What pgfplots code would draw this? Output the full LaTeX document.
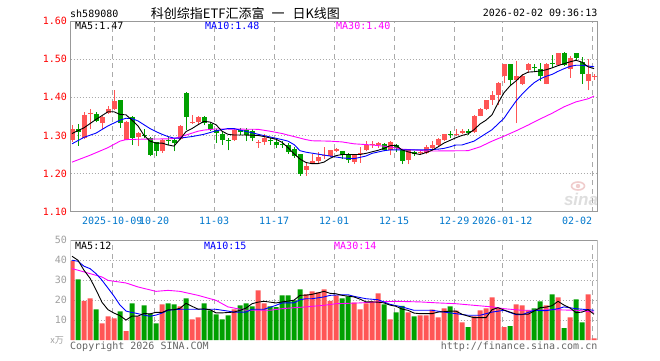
\documentclass[border=0pt]{standalone}
\usepackage{pgfplots}
\pgfplotsset{compat=1.18}
\usepackage{pgfplotstable}
\usepackage{fontspec}
\setmainfont{DejaVu Sans Mono}
\newfontfamily\cjk{Noto Sans CJK SC}
\newfontfamily\wm{Liberation Sans}
\definecolor{upred}{RGB}{255,85,85}
\definecolor{dngreen}{RGB}{0,160,0}
\definecolor{labred}{RGB}{255,0,0}
\definecolor{labblue}{RGB}{0,120,205}
\definecolor{gridgray}{RGB}{170,170,170}
\definecolor{framegray}{RGB}{153,153,153}
\definecolor{volgray}{RGB}{160,160,160}
\definecolor{ma10blue}{RGB}{0,0,255}
\definecolor{ma30mag}{RGB}{255,0,255}
\definecolor{wmgray}{RGB}{222,222,222}
\definecolor{wmeye}{RGB}{240,205,205}

% up (red) candles: index, open, high, low, close, volume
\pgfplotstableread{
i o h l c v
0 1.288 1.327 1.283 1.318 39.6
2 1.292 1.362 1.290 1.353 19.6
3 1.356 1.370 1.318 1.360 20.9
5 1.332 1.351 1.318 1.347 8.4
6 1.360 1.376 1.357 1.369 11.9
7 1.370 1.418 1.366 1.391 10.9
9 1.289 1.338 1.287 1.336 4.5
11 1.295 1.308 1.271 1.307 11.9
15 1.258 1.290 1.255 1.289 17.9
18 1.290 1.328 1.288 1.325 16.9
20 1.332 1.354 1.331 1.336 10.4
21 1.335 1.350 1.328 1.349 11.4
27 1.288 1.317 1.285 1.314 15.4
31 1.279 1.289 1.268 1.282 24.9
32 1.283 1.305 1.276 1.294 18.4
39 1.209 1.231 1.194 1.220 22.9
40 1.229 1.250 1.225 1.232 24.4
41 1.232 1.257 1.226 1.243 23.9
42 1.246 1.270 1.239 1.249 25.4
43 1.246 1.263 1.244 1.261 19.6
44 1.259 1.267 1.256 1.264 22.4
47 1.231 1.250 1.225 1.248 18.7
48 1.250 1.270 1.229 1.255 15.4
49 1.261 1.285 1.258 1.276 18.4
50 1.275 1.286 1.268 1.278 19.4
51 1.276 1.283 1.266 1.279 23.4
53 1.261 1.285 1.248 1.282 10.4
56 1.235 1.263 1.225 1.261 13.9
58 1.253 1.263 1.249 1.257 12.4
59 1.254 1.276 1.250 1.269 12.4
60 1.266 1.285 1.262 1.276 15.2
61 1.275 1.293 1.273 1.290 11.4
62 1.288 1.305 1.286 1.303 15.9
64 1.300 1.317 1.298 1.305 14.7
65 1.306 1.318 1.304 1.311 8.9
67 1.308 1.354 1.306 1.352 11.9
68 1.352 1.372 1.350 1.370 14.9
69 1.370 1.393 1.367 1.392 15.9
70 1.392 1.416 1.380 1.406 21.4
71 1.405 1.440 1.380 1.438 15.9
72 1.455 1.488 1.438 1.486 6.4
74 1.445 1.495 1.332 1.457 17.9
75 1.436 1.461 1.433 1.457 17.4
76 1.471 1.490 1.464 1.486 14.9
79 1.436 1.490 1.434 1.486 17.4
81 1.484 1.517 1.482 1.515 21.4
83 1.475 1.508 1.451 1.503 11.4
86 1.442 1.501 1.418 1.460 22.9
87 1.452 1.460 1.445 1.455 0.8
}\upcandles

% down (green) candles
\pgfplotstableread{
i o h l c v
1 1.318 1.329 1.273 1.310 30.4
4 1.357 1.362 1.334 1.338 15.4
8 1.393 1.394 1.320 1.332 14.4
10 1.348 1.352 1.275 1.294 18.4
12 1.301 1.317 1.293 1.298 17.4
13 1.294 1.296 1.245 1.249 13.2
14 1.282 1.284 1.245 1.258 8.4
16 1.289 1.297 1.275 1.286 18.4
17 1.289 1.290 1.258 1.280 17.9
19 1.412 1.413 1.315 1.348 20.9
22 1.347 1.351 1.327 1.332 18.4
23 1.330 1.333 1.311 1.317 14.9
24 1.315 1.318 1.281 1.306 12.9
25 1.303 1.310 1.275 1.288 10.4
26 1.289 1.294 1.261 1.286 12.4
28 1.314 1.319 1.300 1.308 17.4
29 1.314 1.320 1.285 1.301 18.4
30 1.311 1.318 1.285 1.292 16.9
33 1.288 1.294 1.275 1.285 16.9
34 1.284 1.288 1.266 1.275 16.5
35 1.278 1.286 1.267 1.275 22.4
36 1.275 1.280 1.252 1.257 22.4
37 1.265 1.270 1.241 1.247 19.9
38 1.252 1.252 1.194 1.200 25.4
45 1.259 1.259 1.239 1.248 20.9
46 1.250 1.255 1.229 1.235 21.9
52 1.277 1.279 1.258 1.261 17.9
54 1.275 1.278 1.256 1.266 13.9
55 1.261 1.264 1.225 1.234 17.1
57 1.257 1.259 1.247 1.251 11.9
63 1.305 1.311 1.294 1.302 16.9
66 1.311 1.316 1.302 1.306 6.4
73 1.486 1.487 1.433 1.445 6.9
77 1.479 1.486 1.466 1.476 15.9
78 1.475 1.489 1.442 1.455 19.4
80 1.491 1.510 1.477 1.488 22.9
82 1.515 1.519 1.482 1.484 5.9
84 1.515 1.515 1.497 1.503 20.4
85 1.493 1.506 1.436 1.460 8.9
}\downcandles

\pgfplotstableread{
i m
0 1.305
2 1.320
4 1.342
6 1.362
7 1.362
8 1.355
9 1.354
10 1.340
11 1.325
12 1.300
13 1.285
14 1.280
15 1.280
16 1.275
17 1.272
18 1.290
19 1.310
20 1.318
21 1.328
22 1.337
23 1.335
24 1.328
25 1.311
26 1.303
27 1.301
29 1.301
31 1.300
32 1.297
34 1.290
35 1.282
36 1.268
37 1.252
38 1.238
39 1.229
40 1.226
41 1.226
42 1.230
43 1.240
44 1.247
45 1.250
48 1.250
49 1.253
50 1.257
51 1.261
52 1.266
53 1.273
54 1.274
55 1.262
56 1.257
57 1.253
58 1.250
59 1.255
60 1.261
61 1.270
62 1.280
63 1.287
64 1.294
65 1.300
66 1.304
67 1.315
68 1.330
69 1.340
70 1.354
71 1.385
72 1.412
73 1.430
74 1.443
75 1.458
76 1.466
77 1.467
78 1.469
79 1.472
80 1.477
81 1.483
82 1.488
83 1.493
84 1.497
85 1.492
86 1.480
87 1.475
}\mafive

\pgfplotstableread{
i m
0 1.278
2 1.295
4 1.306
6 1.325
8 1.340
9 1.345
10 1.344
11 1.338
12 1.328
13 1.318
14 1.310
15 1.303
16 1.297
17 1.293
18 1.293
19 1.295
20 1.297
21 1.300
22 1.303
24 1.312
26 1.318
27 1.318
28 1.314
30 1.307
31 1.303
33 1.296
35 1.289
36 1.285
37 1.276
38 1.260
39 1.256
41 1.251
43 1.246
45 1.241
47 1.239
49 1.246
50 1.253
52 1.260
53 1.262
59 1.262
61 1.264
62 1.266
63 1.270
64 1.275
65 1.275
67 1.285
68 1.295
70 1.315
72 1.345
73 1.368
74 1.390
75 1.408
76 1.424
77 1.438
78 1.448
79 1.455
80 1.460
81 1.468
82 1.475
83 1.481
84 1.484
85 1.484
86 1.482
87 1.480
}\maten

\pgfplotstableread{
i m
0 1.230
3 1.248
6 1.268
8 1.285
9 1.289
11 1.290
16 1.291
17 1.292
18 1.296
20 1.306
21 1.311
22 1.314
24 1.317
31 1.316
33 1.311
35 1.305
37 1.297
39 1.289
40 1.286
43 1.285
45 1.283
47 1.278
50 1.275
53 1.270
55 1.264
58 1.261
59 1.259
66 1.260
68 1.270
70 1.285
72 1.298
74 1.312
76 1.327
78 1.343
80 1.358
82 1.375
84 1.388
86 1.396
87 1.403
}\mathirty

\pgfplotstableread{
i m
0 42.0
1 40.0
2 35.0
3 31.0
4 25.2
5 18.9
6 15.2
7 13.5
8 12.2
9 10.0
10 12.0
11 12.0
12 13.3
13 13.1
14 13.9
15 13.8
16 15.1
17 15.2
18 15.9
19 18.4
20 16.9
21 15.5
22 15.6
23 15.2
24 13.6
25 13.6
26 13.8
27 14.0
28 14.9
29 16.0
30 18.2
31 19.0
32 19.4
33 19.0
34 18.6
35 19.1
36 19.5
37 20.0
38 22.4
39 22.5
40 22.9
41 23.6
42 24.4
43 23.4
44 23.2
45 22.4
46 22.0
47 21.6
48 20.5
49 19.1
50 19.1
51 19.0
52 18.6
53 17.5
54 16.9
55 15.5
56 14.9
57 13.5
58 13.2
59 13.2
60 13.2
61 14.0
62 14.2
63 14.5
64 14.5
65 12.9
66 12.0
67 11.2
68 11.2
69 11.2
70 15.2
71 16.2
72 15.0
73 14.0
74 13.0
75 12.9
76 12.9
77 14.5
78 16.2
79 16.5
80 17.2
81 19.4
82 17.5
83 16.1
84 13.7
85 14.0
86 15.2
87 12.9
}\vfive

\pgfplotstableread{
i m
0 40.0
1 39.5
2 37.0
3 35.8
4 33.3
5 30.0
6 26.0
7 22.0
8 17.5
9 14.5
10 13.8
11 13.2
12 12.5
13 11.9
14 12.5
15 13.5
16 14.9
17 15.2
18 15.4
19 15.4
22 15.4
24 15.4
26 14.5
27 14.0
29 14.0
30 15.4
32 15.4
34 17.4
35 18.6
37 18.6
38 20.2
39 20.7
40 20.7
42 21.6
43 22.4
45 22.7
46 22.7
47 21.9
49 20.7
51 20.2
53 17.9
55 16.6
57 14.9
60 14.9
62 14.0
64 13.2
66 12.4
68 12.4
70 14.0
72 14.9
74 12.7
75 12.7
77 14.9
79 14.7
81 15.7
82 16.6
84 15.7
86 15.2
87 14.9
}\vten

\pgfplotstableread{
i m
0 35.8
1 35.0
3 33.3
5 31.6
6 29.9
9 28.6
11 26.6
14 24.4
16 24.9
18 24.4
21 22.4
24 19.9
26 16.6
29 14.9
33 14.9
35 15.7
37 16.2
39 16.6
40 16.9
42 17.4
44 18.2
48 18.6
51 19.1
54 19.4
58 19.1
61 18.6
64 18.2
67 17.4
70 16.6
72 15.7
75 14.9
77 14.9
80 15.2
84 14.9
87 14.0
}\vthirty

\begin{document}
\begin{tikzpicture}[x=1pt,y=1pt]
\fill[white] (0pt,0pt) rectangle (660pt,360pt);
\path[use as bounding box] (0pt,0pt) rectangle (660pt,360pt);

% header
\node[anchor=west,inner sep=0pt,font=\fontsize{10pt}{12pt}\selectfont] at (70pt,346.7pt) {sh589080};
\node[anchor=west,inner sep=0pt,font=\cjk\fontsize{13pt}{15pt}\selectfont] at (150.7pt,346.7pt) {科创综指ETF汇添富\hspace{7pt}一\hspace{8pt}日K线图};
\node[anchor=east,inner sep=0pt,font=\fontsize{10pt}{12pt}\selectfont] at (597.5pt,346.7pt) {2026-02-02 09:36:13};

% watermark (sina logo)
\draw[wmeye, line width=1.6pt] (578pt,174pt) ellipse (6.5pt and 4pt);
\fill[wmeye] (578pt,174pt) circle (2.2pt);
\node[inner sep=0pt,text=wmgray,font=\wm\bfseries\itshape\fontsize{17pt}{18pt}\selectfont] at (581pt,161pt) {sina};

\pgfplotsset{
  klbase/.style={
    scale only axis, width=527pt,
    xmin=-0.25, xmax=87.58,
    /pgf/number format/assume math mode=true,
    major tick length=0pt,
    xtick={6.7,13.7,23.7,33.7,43.7,53.7,63.7,71.7,86.7},
    xmajorgrids, ymajorgrids,
    major x grid style={gridgray, line width=0.8pt, dash pattern=on 5pt off 4pt},
    major y grid style={gridgray, line width=0.8pt, dash pattern=on 1pt off 2pt},
    ticklabel style={font=\fontsize{10pt}{12pt}\selectfont},
  },
  candle/.style={draw=none, mark=none, forget plot,
    error bars/.cd, y dir=plus, y explicit, error mark=none},
}

% price axis
\begin{axis}[klbase,
  at={(70.5pt,148.3pt)}, anchor=south west, height=190.7pt,
  ymin=1.10, ymax=1.60,
  axis line style={framegray, line width=0.9pt},
  xticklabels={2025-10-09,10-20,11-03,11-17,12-01,12-15,12-29,2026-01-12,\makebox[0pt][r]{02-02}},
  xticklabel style={text=labblue, yshift=-2pt},
  ytick={1.1,1.2,1.3,1.4,1.5,1.6},
  yticklabels={1.10,1.20,1.30,1.40,1.50,1.60},
  yticklabel style={text=labred},
]
% wicks
\addplot[candle, error bar style={draw=upred, line width=1pt}]
  table[x=i, y=l, y error expr=\thisrow{h}-\thisrow{l}] {\upcandles};
\addplot[candle, error bar style={draw=dngreen, line width=1pt}]
  table[x=i, y=l, y error expr=\thisrow{h}-\thisrow{l}] {\downcandles};
% bodies
\addplot[candle, error bar style={draw=upred, line width=5pt}]
  table[x=i, y=o, y error expr=\thisrow{c}-\thisrow{o}] {\upcandles};
\addplot[candle, error bar style={draw=dngreen, line width=5pt}]
  table[x=i, y=c, y error expr=\thisrow{o}-\thisrow{c}] {\downcandles};
% moving averages
\addplot[ma30mag, line width=0.9pt, mark=none] table[x=i, y=m] {\mathirty};
\addplot[ma10blue, line width=0.9pt, mark=none] table[x=i, y=m] {\maten};
\addplot[black, line width=0.9pt, mark=none] table[x=i, y=m] {\mafive};
\end{axis}

\node[anchor=west,inner sep=0pt,font=\fontsize{10pt}{12pt}\selectfont] at (75pt,334pt) {MA5:1.47};
\node[anchor=west,inner sep=0pt,text=ma10blue,font=\fontsize{10pt}{12pt}\selectfont] at (205pt,334pt) {MA10:1.48};
\node[anchor=west,inner sep=0pt,text=ma30mag,font=\fontsize{10pt}{12pt}\selectfont] at (336pt,334pt) {MA30:1.40};

% volume axis
\begin{axis}[klbase,
  at={(70.5pt,20pt)}, anchor=south west, height=99.7pt,
  ymin=0, ymax=50,
  axis line style={draw=none},
  xticklabels={},
  ytick={10,20,30,40},
  extra y ticks={50},
  extra y tick labels={},
  yticklabel style={text=volgray},
]
\addplot[ybar, bar width=5pt, bar shift=0pt, fill=upred, draw=none] table[x=i, y=v] {\upcandles};
\addplot[ybar, bar width=5pt, bar shift=0pt, fill=dngreen, draw=none] table[x=i, y=v] {\downcandles};
\addplot[ma30mag, line width=0.9pt, mark=none] table[x=i, y=m] {\vthirty};
\addplot[ma10blue, line width=0.9pt, mark=none] table[x=i, y=m] {\vten};
\addplot[black, line width=0.9pt, mark=none] table[x=i, y=m] {\vfive};
\draw[framegray, line width=0.9pt] (rel axis cs:0,0) -- (rel axis cs:0,1) -- (rel axis cs:1,1) -- (rel axis cs:1,0);
\end{axis}

\node[anchor=east,inner sep=0pt,text=volgray,font=\fontsize{10pt}{12pt}\selectfont] at (67.2pt,119.7pt) {50};
\node[anchor=west,inner sep=0pt,font=\fontsize{10pt}{12pt}\selectfont] at (75pt,114pt) {MA5:12};
\node[anchor=west,inner sep=0pt,text=ma10blue,font=\fontsize{10pt}{12pt}\selectfont] at (204pt,114pt) {MA10:15};
\node[anchor=west,inner sep=0pt,text=ma30mag,font=\fontsize{10pt}{12pt}\selectfont] at (334pt,114pt) {MA30:14};

\node[anchor=east,inner sep=0pt,text=volgray,font=\cjk\fontsize{9pt}{10pt}\selectfont] at (64pt,20pt) {x万};
\node[anchor=west,inner sep=0pt,text=black!60,font=\fontsize{10pt}{12pt}\selectfont] at (70pt,13.5pt) {Copyright 2026 SINA.COM};
\node[anchor=east,inner sep=0pt,text=black!60,font=\fontsize{10pt}{12pt}\selectfont] at (597.5pt,13.5pt) {http://finance.sina.com.cn};
\end{tikzpicture}
\end{document}
